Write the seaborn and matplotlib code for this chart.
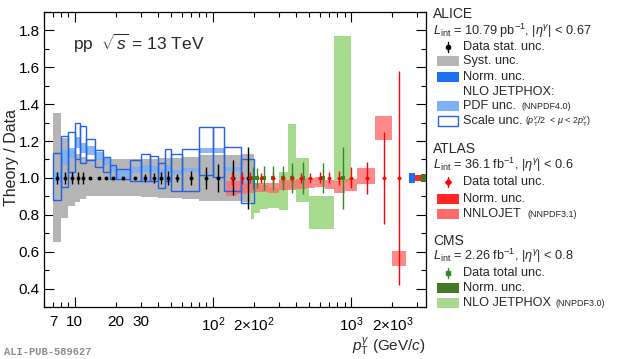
import numpy as np
import pandas as pd
import matplotlib
matplotlib.use("Agg")
import matplotlib.pyplot as plt
import seaborn as sns
from matplotlib.patches import Rectangle
from matplotlib.lines import Line2D
from matplotlib.ticker import FixedLocator, FuncFormatter, MultipleLocator

# ---------------- data ----------------
alice_edges = [7, 8, 9, 10, 11, 12, 14, 16, 18, 20, 25, 30, 35, 40, 45, 50, 60, 80, 100, 120, 160, 200]
alice_pt = [7.5, 8.5, 9.5, 10.5, 11.5, 13, 15, 17, 19, 22.5, 27.5, 32.5, 37.5, 42.5, 47.5, 55, 70, 90, 110, 140, 180]
alice_ratio = [1.0] * 21
alice_stat = [0.032, 0.032, 0.032, 0.032, 0.032, 0.006, 0.006, 0.006, 0.006, 0.006, 0.006,
              0.02, 0.025, 0.033, 0.04, 0.023, 0.038, 0.06, 0.077, 0.095, 0.17]
alice_syst = [0.35, 0.215, 0.15, 0.128, 0.115, 0.10, 0.10, 0.10, 0.10, 0.10, 0.10,
              0.105, 0.105, 0.11, 0.11, 0.11, 0.115, 0.125, 0.125, 0.125, 0.13]
alice_pdf_lo = [0.98, 1.07, 1.106, 1.16, 1.135, 1.124, 1.097, 1.07, 1.034, 1.0, 1.025,
                1.034, 1.03, 1.02, 1.035, 1.02, 1.03, 1.135, 1.135, 1.04, 0.97]
alice_pdf_hi = [1.03, 1.15, 1.16, 1.22, 1.19, 1.175, 1.142, 1.106, 1.07, 1.043, 1.06,
                1.07, 1.065, 1.05, 1.07, 1.045, 1.055, 1.16, 1.16, 1.06, 0.99]
alice_scale_lo = [0.88, 0.95, 1.03, 1.10, 1.079, 1.097, 1.061, 1.034, 0.995, 0.995, 0.985,
                  0.984, 0.984, 0.944, 0.984, 0.931, 0.931, 1.016, 1.007, 0.93, 0.863]
alice_scale_hi = [1.135, 1.229, 1.247, 1.30, 1.283, 1.209, 1.151, 1.115, 1.07, 1.049, 1.097,
                  1.128, 1.121, 1.079, 1.157, 1.128, 1.157, 1.277, 1.277, 1.169, 1.101]

atlas_edges = [125, 150, 175, 200, 250, 300, 350, 400, 470, 550, 650, 750, 900, 1100, 1500, 2000, 2500]
atlas_pt = [137.5, 162.5, 187.5, 225, 275, 325, 375, 435, 510, 600, 700, 825, 1000, 1300, 1750, 2250]
atlas_ratio = [1.0] * 16
atlas_tot = [0.036, 0.033, 0.03, 0.028, 0.025, 0.026, 0.026, 0.028, 0.028, 0.03, 0.03, 0.04,
             0.057, 0.085, 0.25, 0.58]
atlas_nnlo_lo = [0.90, 0.915, 0.92, 0.925, 0.92, 0.935, 0.935, 0.94, 0.945, 0.95, 0.94, 0.92,
                 0.93, 0.967, 1.205, 0.521]
atlas_nnlo_hi = [0.985, 0.985, 0.975, 0.975, 0.975, 0.99, 0.99, 0.995, 1.0, 1.005, 0.99, 0.985,
                 0.995, 1.052, 1.335, 0.602]

cms_edges = [190, 200, 220, 250, 300, 350, 400, 500, 750, 1000]
cms_pt = [195, 210, 235, 275, 325, 375, 450, 625, 875]
cms_ratio = [1.0] * 9
cms_tot = [0.06, 0.054, 0.063, 0.063, 0.066, 0.081, 0.085, 0.081, 0.167]
cms_jp_lo = [0.78, 0.81, 0.83, 0.835, 0.827, 0.944, 0.872, 0.724, 0.98]
cms_jp_hi = [0.97, 0.97, 0.96, 0.945, 1.034, 1.292, 1.106, 0.903, 1.768]

norm_unc = {"ALICE": 0.025, "ATLAS": 0.018, "CMS": 0.022}

# ---------------- style ----------------
sns.set_theme(style="ticks")
plt.rcParams['font.family'] = ['Liberation Sans', 'DejaVu Sans']
plt.rcParams['mathtext.fontset'] = 'custom'
plt.rcParams['mathtext.rm'] = 'Liberation Sans'
plt.rcParams['mathtext.it'] = 'Liberation Sans:italic'
plt.rcParams['mathtext.bf'] = 'Liberation Sans:bold'
plt.rcParams['mathtext.sf'] = 'Liberation Sans'

C_GRAY = '#b5b5b5'
C_NORM_B = '#1a72f0'
C_PDF = '#7db0f5'
C_SCALE = '#2162e6'
C_RED = '#ff0000'
C_NORM_R = '#ff2626'
C_NNLO = '#ff6b6b'
C_GREEN = '#2e8b22'
C_NORM_G = '#457a25'
C_JP = '#a6da8f'

W, H = 620, 359
fig = plt.figure(figsize=(W / 100, H / 100), dpi=100)
ax = fig.add_axes([44 / W, 1 - 307 / H, (426 - 44) / W, (307 - 12) / H])
ax.set_xscale('log')
ax.set_xlim(6, 3500)
ax.set_ylim(0.3, 1.9)


def boxes(edges, lo, hi, **kw):
    e = np.asarray(edges, float)
    lo = np.asarray(lo, float)
    hi = np.asarray(hi, float)
    ax.bar(e[:-1], hi - lo, width=np.diff(e), bottom=lo, align='edge', **kw)


a_r = np.array(alice_ratio)
a_s = np.array(alice_syst)
boxes(alice_edges, a_r - a_s, a_r + a_s, color=C_GRAY, linewidth=0, zorder=1)
boxes(cms_edges, cms_jp_lo, cms_jp_hi, color=C_JP, linewidth=0, zorder=2)
boxes(atlas_edges, atlas_nnlo_lo, atlas_nnlo_hi, color=C_NNLO, alpha=0.8, linewidth=0, zorder=3)
boxes(alice_edges, alice_pdf_lo, alice_pdf_hi, color=C_PDF, alpha=0.9, linewidth=0, zorder=4)
boxes(alice_edges, alice_scale_lo, alice_scale_hi, facecolor='none', edgecolor=C_SCALE,
      linewidth=1.0, zorder=5)

# normalisation boxes at right edge
for (x0, x1), key, col in [((2630, 2900), "ALICE", C_NORM_B), ((2900, 3200), "ATLAS", C_NORM_R),
                           ((3200, 3500), "CMS", C_NORM_G)]:
    ax.bar([x0], [2 * norm_unc[key]], width=[x1 - x0], bottom=[1 - norm_unc[key]], align='edge',
           color=col, linewidth=0, zorder=6)

# data points
ax.errorbar(alice_pt, alice_ratio, yerr=alice_stat, fmt='none', ecolor='black', elinewidth=1.0, zorder=7)
ax.errorbar(atlas_pt, atlas_ratio, yerr=atlas_tot, fmt='none', ecolor=C_RED, elinewidth=1.0, zorder=8)
ax.errorbar(cms_pt, cms_ratio, yerr=cms_tot, fmt='none', ecolor=C_GREEN, elinewidth=1.0, zorder=8)

df_a = pd.DataFrame({"pt": alice_pt, "r": alice_ratio})
df_t = pd.DataFrame({"pt": atlas_pt, "r": atlas_ratio})
df_c = pd.DataFrame({"pt": cms_pt, "r": cms_ratio})
sns.scatterplot(data=df_a, x="pt", y="r", ax=ax, color='black', marker='o', s=8, linewidth=0, zorder=9)
sns.scatterplot(data=df_c, x="pt", y="r", ax=ax, color=C_GREEN, marker='s', s=7, linewidth=0, zorder=9)
sns.scatterplot(data=df_t, x="pt", y="r", ax=ax, color=C_RED, marker='D', s=6, linewidth=0, zorder=10)

ax.set_xlabel('')
ax.set_ylabel('')

# ticks
major_lbl = {10: '10', 100: r'$10^{2}$', 1000: r'$10^{3}$'}
minor_lbl = {7: '7', 20: '20', 30: '30', 200: r'$2{\times}10^{2}$', 2000: r'$2{\times}10^{3}$'}
ax.xaxis.set_major_locator(FixedLocator([10, 100, 1000]))
minors = [m * d for d in (1, 10, 100, 1000) for m in range(2, 10) if 6 <= m * d <= 3500]
ax.xaxis.set_minor_locator(FixedLocator(minors))


def fmt_major(v, pos):
    for k, s in major_lbl.items():
        if abs(v - k) < 1e-6 * k:
            return s
    return ''


def fmt_minor(v, pos):
    for k, s in minor_lbl.items():
        if abs(v - k) < 1e-6 * k:
            return s
    return ''


ax.xaxis.set_major_formatter(FuncFormatter(fmt_major))
ax.xaxis.set_minor_formatter(FuncFormatter(fmt_minor))
ax.yaxis.set_major_locator(FixedLocator([0.4, 0.6, 0.8, 1.0, 1.2, 1.4, 1.6, 1.8]))
ax.yaxis.set_major_formatter(FuncFormatter(lambda v, p: f"{v:.1f}"))
ax.yaxis.set_minor_locator(MultipleLocator(0.1))
ax.tick_params(which='both', direction='in', top=True, right=True, colors='black',
               labelsize=11, width=0.8)
ax.tick_params(which='major', length=7)
ax.tick_params(which='minor', length=3.5)
ax.tick_params(axis='x', which='both', pad=6)
ax.tick_params(axis='y', which='both', pad=3)
for sp in ax.spines.values():
    sp.set_color('black')
    sp.set_linewidth(0.9)

# ---------------- texts ----------------
def fx(x):
    return x / W


def fy(y):
    return 1 - y / H


ax.text(fx(73), fy(43), r'pp  $\sqrt{s}$ = 13 TeV', transform=fig.transFigure, fontsize=12.5,
        va='center', ha='left')
fig.text(fx(12), fy(158), 'Theory / Data', rotation=90, fontsize=11.5, va='center', ha='center')
fig.text(fx(426), fy(346), r'$p_{\rm T}^{\gamma}$ (GeV/$c$)', fontsize=11, ha='right', va='center')
fig.text(fx(4), fy(352), 'ALI-PUB-589627', fontsize=7.5, family='Liberation Mono', weight='bold',
         color='#8a8a8a', ha='left', va='center')

LS = 9.2
SM = 6.5
TX = 463
BX0, BX1 = 437, 459


def box(y, color, fill=True):
    h = 10
    if fill:
        r = Rectangle((fx(BX0), fy(y + h / 2)), (BX1 - BX0) / W, h / H, transform=fig.transFigure,
                      facecolor=color, edgecolor='none')
    else:
        r = Rectangle((fx(BX0 + 0.5), fy(y + h / 2)), (BX1 - BX0 - 1) / W, h / H, transform=fig.transFigure,
                      facecolor='white', edgecolor=color, linewidth=1.0)
    fig.add_artist(r)


def marker(y, color, mk):
    fig.add_artist(Line2D([fx(448), fx(448)], [fy(y - 5), fy(y + 5)], transform=fig.transFigure,
                          color=color, linewidth=1.0))
    fig.add_artist(Line2D([fx(448)], [fy(y)], transform=fig.transFigure, marker=mk, markersize=3,
                          color=color, linestyle='none'))


def txt(x, y, s, size=LS):
    fig.text(fx(x), fy(y), s, fontsize=size, ha='left', va='center')


# ALICE
txt(433, 14, 'ALICE', 10)
txt(433, 31, r'$L_{\rm int}$ = 10.79 pb$^{-1}$, $|\eta^{\gamma}|$ < 0.67')
marker(47, 'black', 'o')
txt(TX, 47, 'Data stat. unc.')
box(61, C_GRAY)
txt(TX, 61, 'Syst. unc.')
box(77, C_NORM_B)
txt(TX, 77, 'Norm. unc.')
txt(TX, 92, 'NLO JETPHOX:')
box(106, C_PDF)
txt(TX, 106, 'PDF unc.')
txt(521, 107, '(NNPDF4.0)', SM)
box(121, C_SCALE, fill=False)
txt(TX, 121, 'Scale unc.')
txt(525, 122, r'($p_{\rm T}^{\gamma}$/2  < $\mu$ < 2$p_{\rm T}^{\gamma}$)', SM)

# ATLAS
txt(433, 149, 'ATLAS', 10)
txt(433, 165, r'$L_{\rm int}$ = 36.1 fb$^{-1}$, $|\eta^{\gamma}|$ < 0.6')
marker(182, C_RED, 'D')
txt(TX, 182, 'Data total unc.')
box(199, C_NORM_R)
txt(TX, 199, 'Norm. unc.')
box(214, C_NNLO)
txt(TX, 214, 'NNLOJET')
txt(527, 215, '(NNPDF3.1)', SM)

# CMS
txt(433, 241, 'CMS', 10)
txt(433, 256, r'$L_{\rm int}$ = 2.26 fb$^{-1}$, $|\eta^{\gamma}|$ < 0.8')
marker(273, C_GREEN, 's')
txt(TX, 273, 'Data total unc.')
box(288, C_NORM_G)
txt(TX, 288, 'Norm. unc.')
box(303, C_JP)
txt(TX, 303, 'NLO JETPHOX')
txt(556, 304, '(NNPDF3.0)', SM)

fig.savefig('out.png', dpi=100)
